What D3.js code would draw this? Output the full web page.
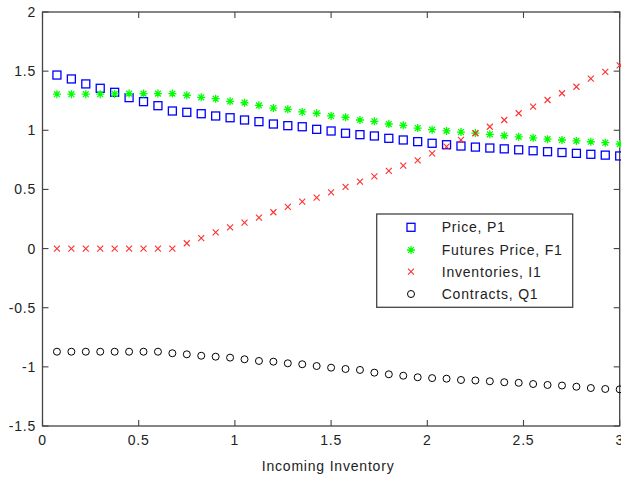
<!DOCTYPE html>
<html><head><meta charset="utf-8">
<script src="https://cdn.jsdelivr.net/npm/d3@7"></script>
<style>body{margin:0;background:#fff}text{font-family:Arial,"Liberation Sans",sans-serif;fill:#222}</style>
</head><body><svg id="c" width="621" height="483"></svg>
<script>
const xValues = [0.075,0.15,0.225,0.3,0.375,0.45,0.525,0.6,0.675,0.75,0.825,0.9,0.975,1.05,1.125,1.2,1.275,1.35,1.425,1.5,1.575,1.65,1.725,1.8,1.875,1.95,2.025,2.1,2.175,2.25,2.325,2.4,2.475,2.55,2.625,2.7,2.775,2.85,2.925,3.0];
const price = [1.467,1.434,1.392,1.355,1.321,1.276,1.242,1.208,1.163,1.152,1.140,1.121,1.106,1.087,1.073,1.053,1.039,1.030,1.008,0.994,0.975,0.963,0.952,0.932,0.918,0.904,0.890,0.878,0.867,0.858,0.850,0.843,0.835,0.827,0.819,0.812,0.805,0.797,0.790,0.783];
const futures = [1.305,1.305,1.305,1.305,1.307,1.31,1.31,1.31,1.31,1.296,1.279,1.267,1.245,1.233,1.211,1.188,1.177,1.155,1.144,1.121,1.110,1.087,1.076,1.053,1.042,1.019,1.005,0.995,0.985,0.976,0.966,0.955,0.945,0.936,0.925,0.918,0.910,0.903,0.895,0.884];
const inventories = [0,0,0,0,0,0,0,0,0,0.045,0.089,0.136,0.180,0.219,0.261,0.307,0.352,0.396,0.430,0.476,0.521,0.566,0.611,0.656,0.701,0.746,0.805,0.861,0.918,0.975,1.030,1.087,1.144,1.200,1.256,1.313,1.368,1.436,1.493,1.549];
const contracts = [-0.872,-0.872,-0.872,-0.872,-0.872,-0.872,-0.872,-0.872,-0.885,-0.894,-0.906,-0.914,-0.922,-0.936,-0.950,-0.956,-0.970,-0.978,-0.993,-1.007,-1.018,-1.026,-1.049,-1.063,-1.075,-1.088,-1.095,-1.100,-1.111,-1.115,-1.122,-1.130,-1.135,-1.145,-1.153,-1.158,-1.168,-1.179,-1.187,-1.190];
const xTicks = [0,0.5,1,1.5,2,2.5,3];
const xTickLabels = ["0","0.5","1","1.5","2","2.5","3"];
const yTicks = [-1.5,-1,-0.5,0,0.5,1,1.5,2];
const yTickLabels = ["-1.5","-1","-0.5","0","0.5","1","1.5","2"];
const seriesNames = ["Price, P1","Futures Price, F1","Inventories, I1","Contracts, Q1"];
const xLabel = "Incoming Inventory";

const svg = d3.select("#c");
const L = 42.5, T = 12, R = 619.7, B = 426;
const x = d3.scaleLinear().domain([0,3]).range([L,R]);
const y = d3.scaleLinear().domain([-1.5,2]).range([B,T]);
const axisCol = "#444";

// markers
function drawMarker(g, type, cx, cy) {
  if (type === "square") {
    g.append("rect").attr("x",cx-4).attr("y",cy-4).attr("width",8).attr("height",8)
      .attr("fill","none").attr("stroke","#0000ff").attr("stroke-width",1.3);
  } else if (type === "star") {
    const s = 4, d = 2.9;
    const p = `M${cx-s},${cy}L${cx+s},${cy}M${cx},${cy-s}L${cx},${cy+s}M${cx-d},${cy-d}L${cx+d},${cy+d}M${cx-d},${cy+d}L${cx+d},${cy-d}`;
    g.append("path").attr("d",p).attr("stroke","#00ff00").attr("stroke-width",1.3).attr("fill","none");
  } else if (type === "x") {
    const s = 3;
    g.append("path").attr("d",`M${cx-s},${cy-s}L${cx+s},${cy+s}M${cx-s},${cy+s}L${cx+s},${cy-s}`)
      .attr("stroke","#ff3030").attr("stroke-width",1.1).attr("fill","none");
  } else {
    g.append("circle").attr("cx",cx).attr("cy",cy).attr("r",3.5)
      .attr("fill","none").attr("stroke","#000").attr("stroke-width",1);
  }
}

// axes box
svg.append("rect").attr("x",L).attr("y",T).attr("width",R-L).attr("height",B-T)
  .attr("fill","none").attr("stroke",axisCol).attr("stroke-width",1.3);

const tk = 6;
const ticks = svg.append("g").attr("stroke",axisCol).attr("stroke-width",1.1);
xTicks.forEach(v => {
  ticks.append("line").attr("x1",x(v)).attr("x2",x(v)).attr("y1",B).attr("y2",B-tk);
  ticks.append("line").attr("x1",x(v)).attr("x2",x(v)).attr("y1",T).attr("y2",T+tk);
});
yTicks.forEach(v => {
  ticks.append("line").attr("x1",L).attr("x2",L+tk).attr("y1",y(v)).attr("y2",y(v));
  ticks.append("line").attr("x1",R).attr("x2",R-tk).attr("y1",y(v)).attr("y2",y(v));
});

const fs = "14px", ls = "0.8px";
xTicks.forEach((v,i) => {
  svg.append("text").attr("x",x(v)).attr("y",445).attr("text-anchor","middle")
    .style("font-size",fs).style("letter-spacing",ls).text(xTickLabels[i]);
});
yTicks.forEach((v,i) => {
  svg.append("text").attr("x",36).attr("y",y(v)+5).attr("text-anchor","end")
    .style("font-size",fs).style("letter-spacing",ls).text(yTickLabels[i]);
});
svg.append("text").attr("x",(L+R)/2+-3).attr("y",471).attr("text-anchor","middle")
  .style("font-size",fs).style("letter-spacing",ls).text(xLabel);

// data
const all = [[price,"square"],[futures,"star"],[inventories,"x"],[contracts,"circle"]];
const pg = svg.append("g");
all.forEach(([arr,type]) => {
  arr.forEach((v,i) => drawMarker(pg, type, x(xValues[i]), y(v)));
});

// legend
const lg = svg.append("g");
lg.append("rect").attr("x",376.7).attr("y",214).attr("width",196).attr("height",93.3)
  .attr("fill","#fff").attr("stroke",axisCol).attr("stroke-width",1.3);
const rowsY = [227.3,250,271.7,294];
seriesNames.forEach((n,i) => {
  drawMarker(lg, all[i][1], 411, rowsY[i]);
  lg.append("text").attr("x",441.7).attr("y",rowsY[i]+5).style("font-size",fs)
    .style("letter-spacing",ls).text(n);
});
</script></body></html>
